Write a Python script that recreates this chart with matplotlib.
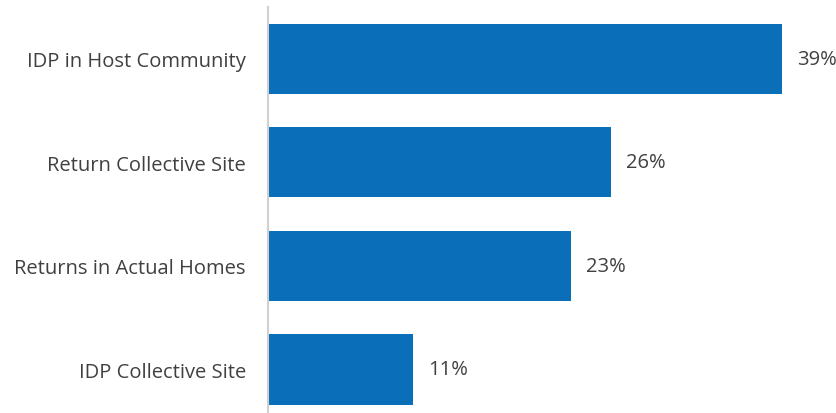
import matplotlib
matplotlib.use("Agg")
import matplotlib.pyplot as plt

categories = ["IDP in Host Community", "Return Collective Site", "Returns in Actual Homes", "IDP Collective Site"]
values = [39, 26, 23, 11]
value_labels = ["39%", "26%", "23%", "11%"]

plt.rcParams['font.family'] = ['Open Sans', 'DejaVu Sans']

fig = plt.figure(figsize=(8.36, 4.14), dpi=100)
ax = fig.add_axes([268/836, 0, (836-268)/836, (414-8)/414])

ypos = list(range(len(categories)))
ax.barh(ypos, values, height=0.676, color="#0A6EB8")
ax.set_xlim(0, 39 * 568 / 514)
ax.set_ylim(3.42, -0.5)
ax.set_yticks(ypos)
ax.set_yticklabels(categories, fontsize=14.5, color="#404040")
ax.tick_params(axis='y', length=0, pad=16)
ax.set_xticks([])
for s in ["top", "right", "bottom"]:
    ax.spines[s].set_visible(False)
ax.spines["left"].set_color("#d0d0d0")
ax.spines["left"].set_linewidth(1.5)

for y, v, lab in zip(ypos, values, value_labels):
    ax.annotate(lab, (v, y), xytext=(11, 0), textcoords="offset points",
                va="center", ha="left", fontsize=14.5, color="#404040", clip_on=False)

fig.savefig("out.png", dpi=100)
